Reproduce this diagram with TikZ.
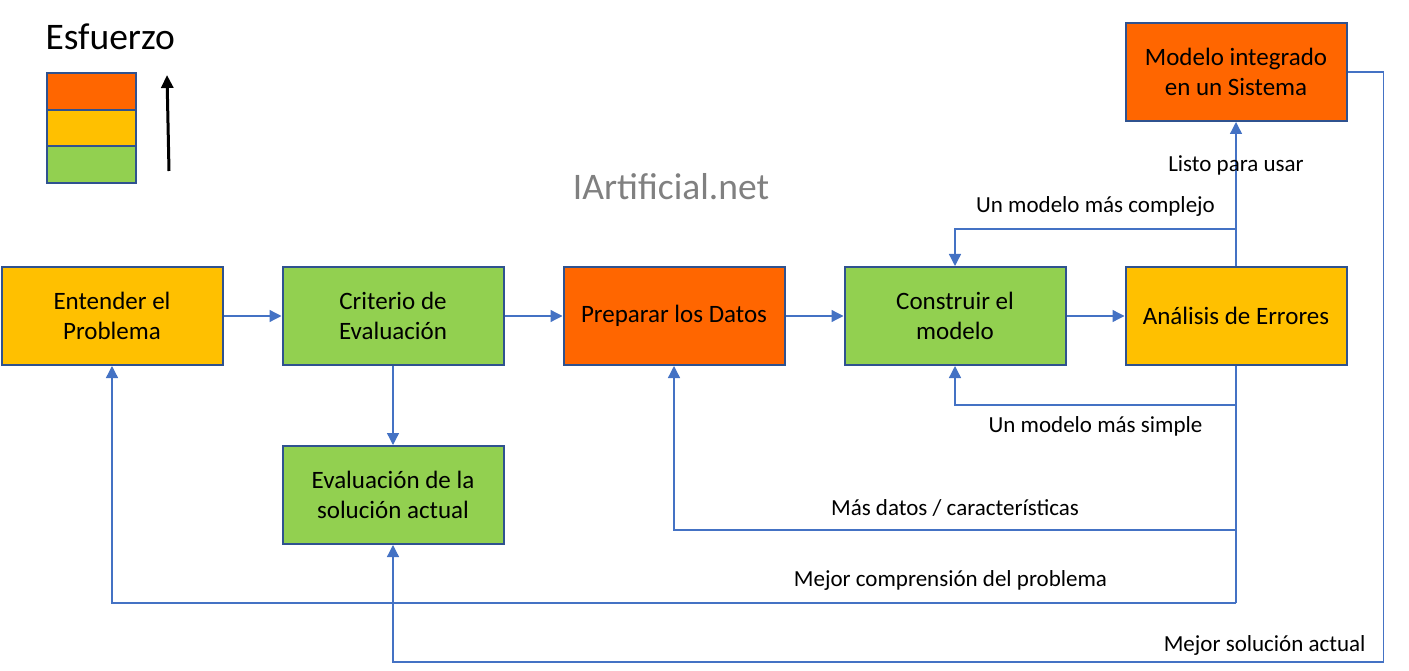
\documentclass[tikz,border=0pt]{standalone}
\usepackage{fontspec}
\setmainfont{Carlito}
\usepackage{xcolor}
\usetikzlibrary{arrows.meta, positioning}
\definecolor{effhigh}{HTML}{FF6600}
\definecolor{effmid}{HTML}{FFC000}
\definecolor{efflow}{HTML}{92D050}
\definecolor{boxline}{HTML}{2F528F}
\definecolor{connline}{HTML}{4472C4}
\tikzset{
    stage/.style={rectangle, draw=boxline, line width=2pt, minimum width=221pt, minimum height=98pt, align=center, font=\fontsize{25}{30}\selectfont},
    high/.style={stage, fill=effhigh},
    mid/.style={stage, fill=effmid},
    low/.style={stage, fill=efflow},
    conn/.style={-{Triangle[length=12pt, width=12pt]}, draw=connline, line width=1.3pt},
    trunk/.style={draw=connline, line width=1.3pt},
    lbl/.style={font=\fontsize{23}{28}\selectfont, text=black}
}
\begin{document}
\begin{tikzpicture}[x=1pt, y=-1pt, node distance=58pt]
    \useasboundingbox (0,0) rectangle (1409,671);
    % legend
    \node[anchor=west, font=\fontsize{37.5}{40}\selectfont] (effort) at (42,37) {Esfuerzo};
    \filldraw[fill=effhigh, draw=boxline, line width=2pt] (47,73) rectangle (136,110);
    \filldraw[fill=effmid, draw=boxline, line width=2pt] (47,110) rectangle (136,146);
    \filldraw[fill=efflow, draw=boxline, line width=2pt] (47,146) rectangle (136,183);
    \draw[-{Triangle[length=13pt, width=12pt]}, line width=3pt] (169,171) -- (167,75);
    \node[font=\fontsize{37.5}{40}\selectfont, text=black!50] (site) at (671,187) {IArtificial.net};

    % stages
    \node (underst) [mid] at (112,316) {Entender el\\Problema};
    \node (criter) [low, right=of underst] {Criterio de\\Evaluación};
    \node (prep) [high, right=of criter] {Preparar los Datos};
    \node (build) [low, right=of prep] {Construir el\\modelo};
    \node (errors) [mid, right=of build] {Análisis de Errores};
    \node (deploy) [high, above=144pt of errors] {Modelo integrado\\en un Sistema};
    \node (evalsol) [low, below=79pt of criter] {Evaluación de la\\solución actual};

    % forward flow
    \draw[conn] (underst) -- (criter);
    \draw[conn] (criter) -- (prep);
    \draw[conn] (prep) -- (build);
    \draw[conn] (build) -- (errors);
    \draw[conn] (criter) -- (evalsol);
    \draw[conn] (errors) -- node[lbl, pos=0.70] {Listo para usar} (deploy);

    % feedback loops
    \draw[conn] (errors.north) ++(0,-37) -| node[lbl, pos=0.25, above=9pt] {Un modelo más complejo} (build.north);
    \draw[trunk] (errors.south) -- ++(0,237) coordinate (tend);
    \draw[conn] (errors.south) ++(0,39) -| node[lbl, pos=0.25, below=8pt] {Un modelo más simple} (build.south);
    \draw[conn] (errors.south) ++(0,164) -| node[lbl, pos=0.25, above=10pt] {Más datos / características} (prep.south);
    \draw[conn] (tend) -| node[lbl, pos=0.127, above=9pt] {Mejor comprensión del problema} (underst.south);
    \draw[conn] (deploy.east) -- ++(36,0) -- ++(0,590) -| node[lbl, pos=0.06, above=3pt] {Mejor solución actual} (evalsol.south);
\end{tikzpicture}
\end{document}
